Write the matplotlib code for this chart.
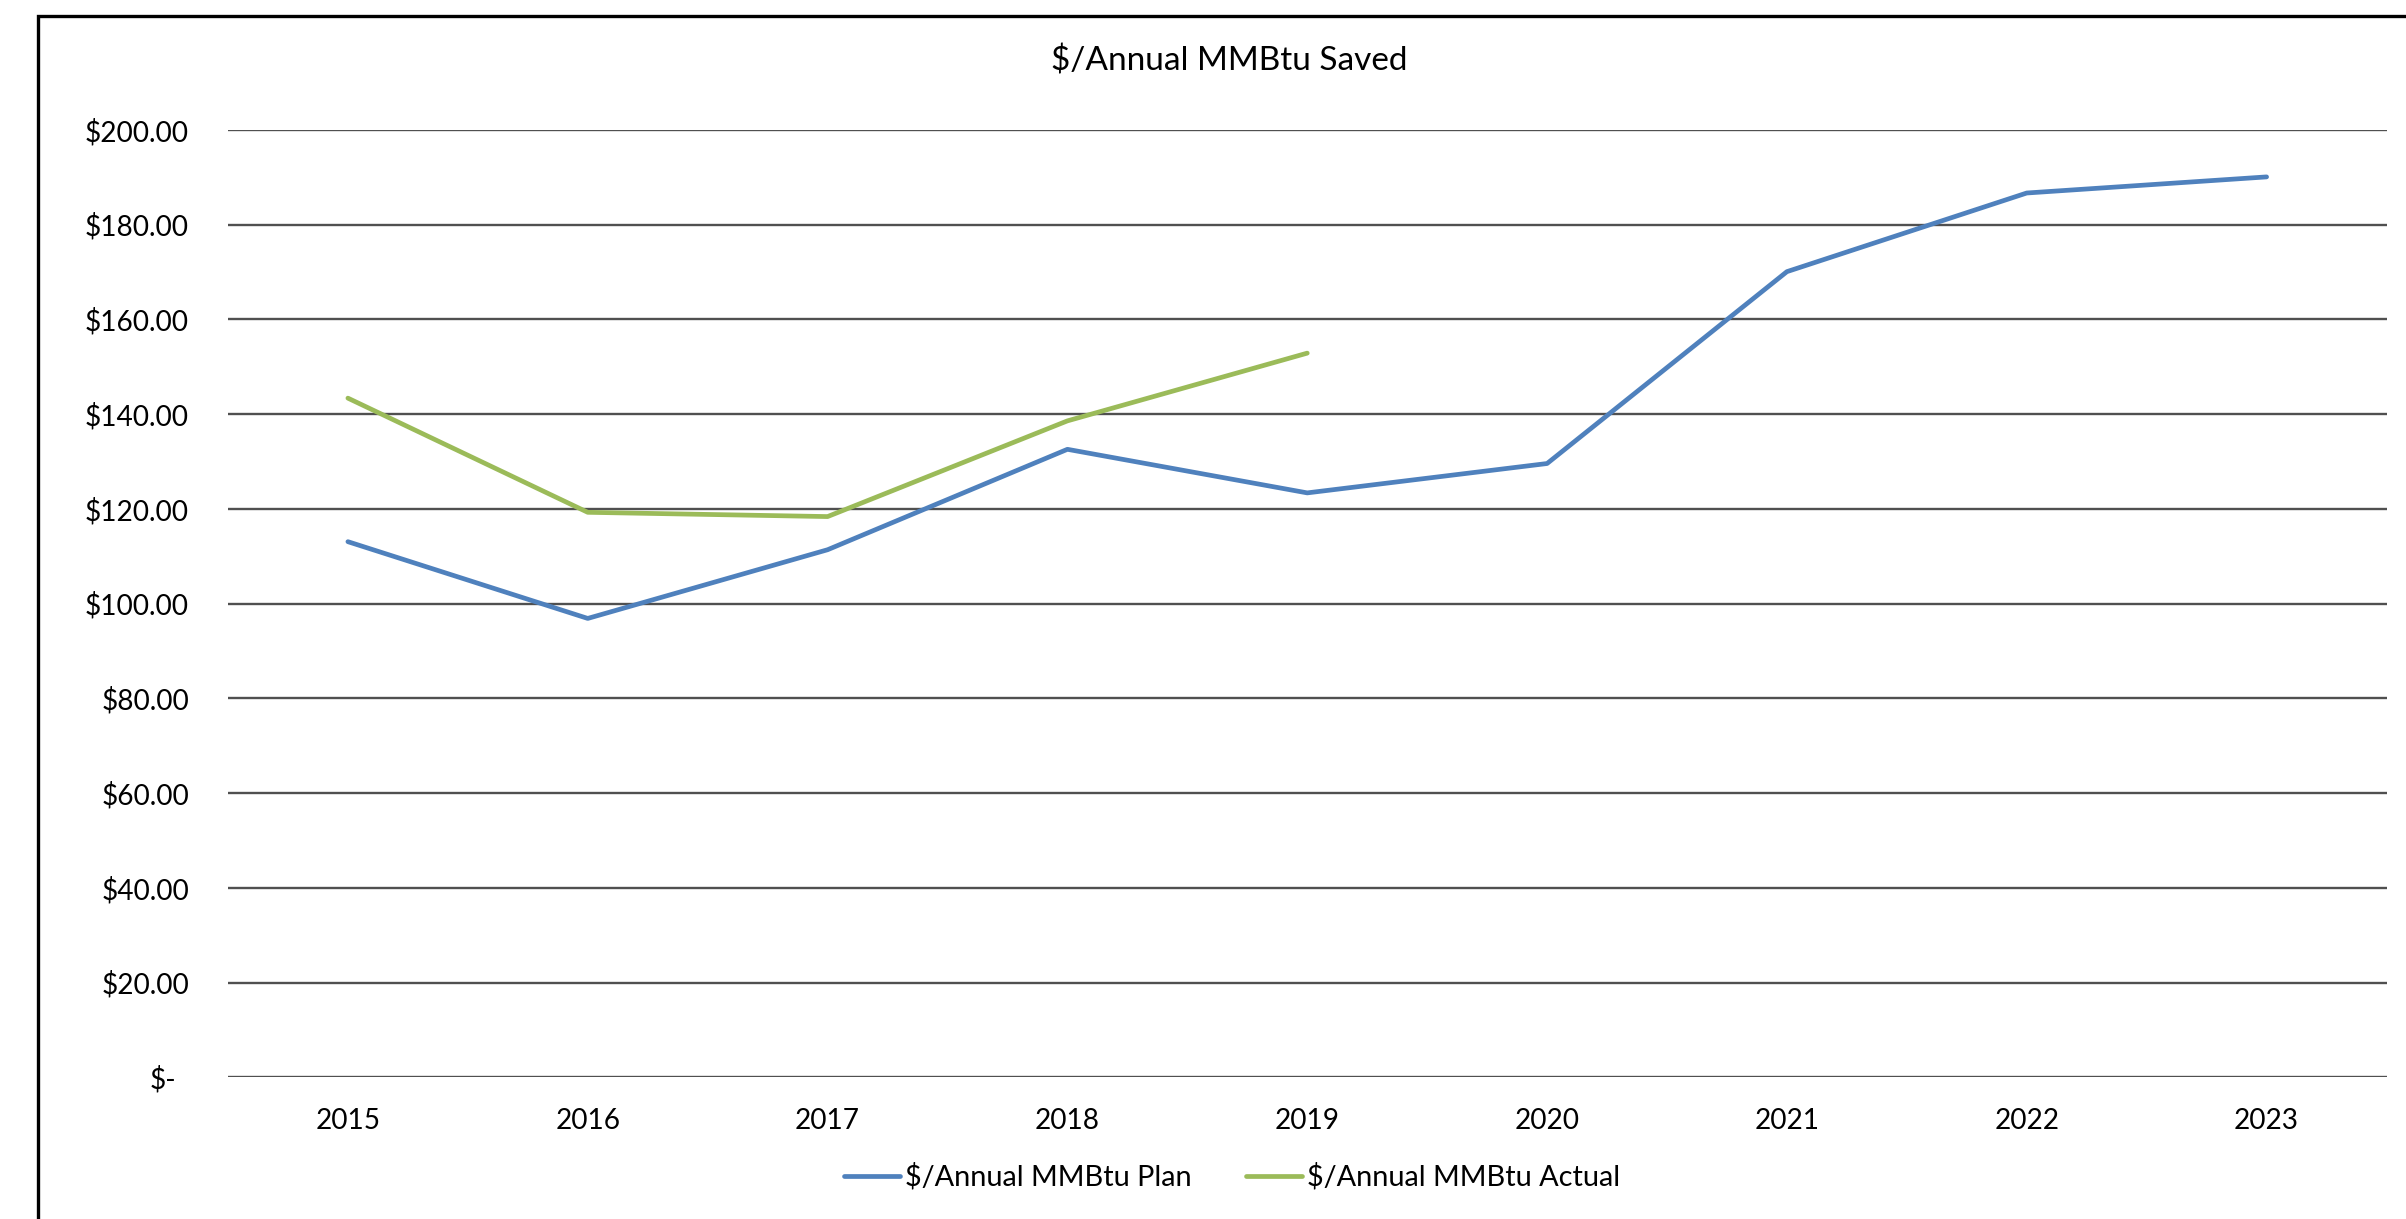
import matplotlib
matplotlib.use("Agg")
import matplotlib.pyplot as plt
from matplotlib.lines import Line2D
from matplotlib.transforms import ScaledTranslation

plt.rcParams['font.family'] = ['Lato', 'DejaVu Sans']

# Data
years = ["2015", "2016", "2017", "2018", "2019", "2020", "2021", "2022", "2023"]
plan = [113.1, 96.9, 111.4, 132.6, 123.4, 129.6, 170.1, 186.7, 190.1]
actual = [143.4, 119.3, 118.4, 138.6, 152.9]
y_ticks = [0, 20, 40, 60, 80, 100, 120, 140, 160, 180, 200]
y_tick_labels = ["$-", "$20.00", "$40.00", "$60.00", "$80.00", "$100.00",
                 "$120.00", "$140.00", "$160.00", "$180.00", "$200.00"]
title = "$/Annual MMBtu Saved"
plan_label = "$/Annual MMBtu Plan"
actual_label = "$/Annual MMBtu Actual"

BLUE = "#4F81BD"
GREEN = "#9BBB59"
DPI = 200

fig = plt.figure(figsize=(2406 / DPI, 1219 / DPI), dpi=DPI)
ax = fig.add_axes([0.09476, 0.11608, 0.99190 - 0.09476, 0.89336 - 0.11608])

x_plan = list(range(len(plan)))
x_actual = list(range(len(actual)))
ax.plot(x_plan, plan, color=BLUE, lw=1.7, solid_capstyle='round',
        solid_joinstyle='round', label=plan_label, zorder=3)
ax.plot(x_actual, actual, color=GREEN, lw=1.7, solid_capstyle='round',
        solid_joinstyle='round', label=actual_label, zorder=3)

ax.set_xlim(-0.5, len(years) - 0.5)
ax.set_ylim(0, 200)
ax.set_xticks(range(len(years)))
ax.set_xticklabels(years)
ax.set_yticks(y_ticks)
ax.set_yticklabels(y_tick_labels)

ax.yaxis.grid(True, color="#505050", lw=0.85)
ax.set_axisbelow(True)
for s in ax.spines.values():
    s.set_visible(False)
ax.tick_params(axis='both', length=0, labelsize=10.1, colors='black')
ax.tick_params(axis='y', pad=14)
ax.tick_params(axis='x', pad=11)

# accounting-style zero label sits a little further left
zero_lab = ax.get_yticklabels()[0]
zero_lab.set_transform(zero_lab.get_transform() +
                       ScaledTranslation(-13 / DPI, 0, fig.dpi_scale_trans))

fig.text(0.511, 0.95, title, ha='center', va='center', fontsize=12)

fig.legend(loc='center', bbox_to_anchor=(0.512, 0.0345), ncol=2, frameon=False,
           fontsize=10.4, handlelength=1.95, handletextpad=0.15, columnspacing=1.9)

# chart area border (left and top edges)
fig.add_artist(Line2D([38 / 2406, 38 / 2406, 1.0], [0.0, 1 - 16 / 1219, 1 - 16 / 1219],
                      transform=fig.transFigure, color='black', lw=1.2,
                      solid_joinstyle='miter'))

fig.savefig("out.png", dpi=DPI)
